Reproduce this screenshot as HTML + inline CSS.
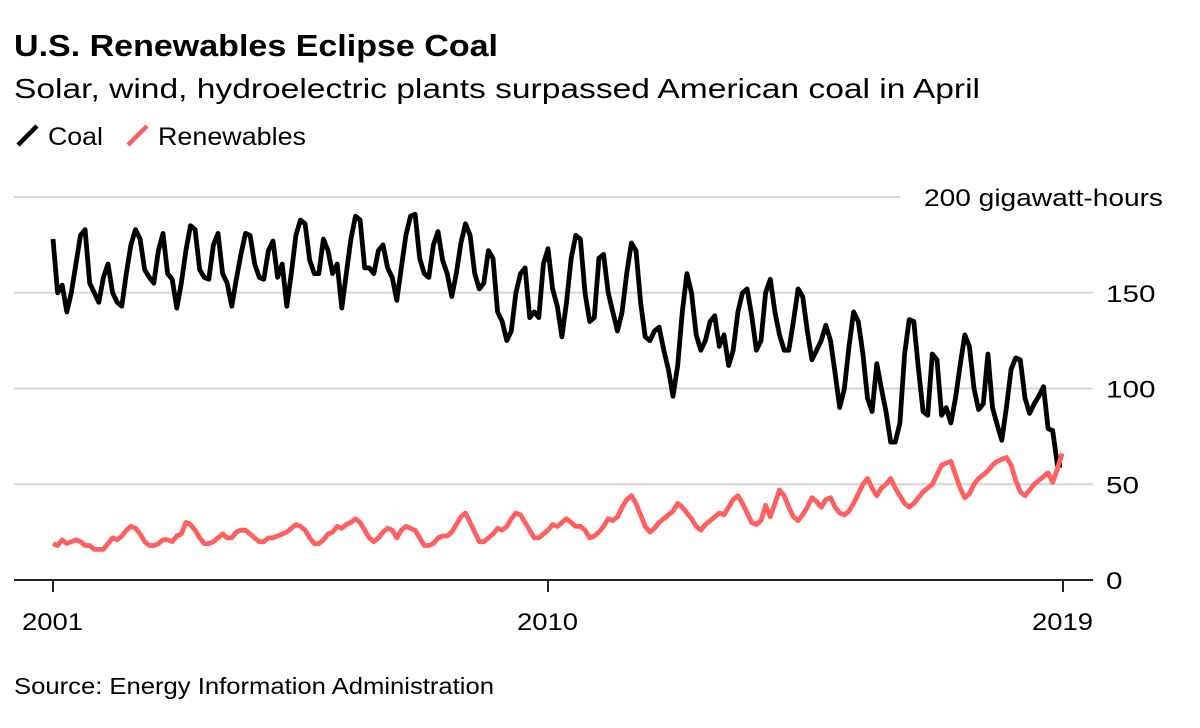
<!DOCTYPE html>
<html><head><meta charset="utf-8"><style>
html,body{margin:0;padding:0;background:#fff;width:1200px;height:728px;overflow:hidden}
svg{display:block;font-family:"Liberation Sans",Arial,sans-serif}
</style></head><body>
<svg id="chart" width="1200" height="728" viewBox="0 0 1200 728">
<text x="14" y="56" font-size="31" font-weight="bold" fill="#000" textLength="484" lengthAdjust="spacingAndGlyphs">U.S. Renewables Eclipse Coal</text>
<text x="14" y="98" font-size="28" fill="#000" textLength="966" lengthAdjust="spacingAndGlyphs">Solar, wind, hydroelectric plants surpassed American coal in April</text>
<g>
<g>
<line x1="18" y1="145" x2="37" y2="126" stroke="#000" stroke-width="4.5"/>
<text x="48" y="145" font-size="25" fill="#000" textLength="55" lengthAdjust="spacingAndGlyphs">Coal</text></g>
<g>
<line x1="128" y1="145" x2="147" y2="126" stroke="#ff5f5f" stroke-width="4.5"/>
<text x="158" y="145" font-size="25" fill="#000" textLength="148" lengthAdjust="spacingAndGlyphs">Renewables</text></g>
</g>
<g id="grid"></g>
<g id="yaxis"></g>
<g id="xaxis"></g>
<g id="series"></g>
<text x="14" y="694" font-size="23" fill="#000" textLength="480" lengthAdjust="spacingAndGlyphs">Source: Energy Information Administration</text>
</svg>
<script>
const yTicks = [0, 50, 100, 150, 200];
const yTickLabels = ["0", "50", "100", "150", "200 gigawatt-hours"];
const xTickYears = [2001, 2010, 2019];
const startYear = 2001;
const coal = [
178,150,154,140,150,165,180,183,155,150,145,158,
165,150,145,143,160,175,183,178,162,158,155,172,
181,160,157,142,155,172,185,183,162,158,157,175,
181,160,155,143,157,170,181,180,165,158,157,172,
177,158,165,143,160,180,188,186,167,160,160,178,
172,160,165,142,160,178,190,188,163,163,160,172,
175,163,158,146,163,180,190,191,168,160,158,175,
182,167,160,148,160,176,186,180,160,152,155,172,
168,140,135,125,130,150,160,163,137,140,137,165,
173,152,143,127,145,168,180,178,150,135,137,168,
170,150,140,130,140,160,176,172,145,127,125,130,
132,120,110,96,112,140,160,150,128,120,125,135,
138,122,128,112,120,140,150,152,138,120,125,150,
157,140,128,120,120,135,152,148,130,115,120,125,
133,125,108,90,100,122,140,135,118,95,88,113,
100,88,72,72,82,118,136,135,110,88,86,118,
115,86,90,82,95,112,128,122,100,89,92,118,
90,81,73,90,110,116,115,95,87,92,96,101,
79,78,60,60];
const renewables = [
19,18,21,19,20,21,20,18,18,16,16,16,
19,22,21,23,26,28,27,24,20,18,18,19,
21,21,20,23,24,30,29,26,22,19,19,20,
22,24,22,22,25,26,26,24,22,20,20,22,
22,23,24,25,27,29,28,26,22,19,19,21,
24,25,28,27,29,30,32,30,26,22,20,22,
25,27,26,22,26,28,27,26,22,18,18,19,
22,23,23,25,29,33,35,30,25,20,20,22,
24,27,26,28,32,35,34,30,26,22,22,24,
26,29,28,30,32,30,28,28,26,22,23,25,
28,32,31,33,38,42,44,40,34,28,25,27,
30,32,34,36,40,38,35,32,28,26,29,31,
33,35,34,38,42,44,40,35,30,29,31,39,
33,40,47,44,38,33,31,34,38,43,41,38,
42,43,38,35,34,36,40,45,50,53,48,44,
48,50,53,48,44,40,38,40,43,46,48,50,
55,60,61,62,55,48,43,45,50,53,55,57,
60,62,63,64,60,52,46,44,47,50,52,54,
56,51,58,66];
const plot = {left:14, right:1093, top:197, bottom:580, x0:53, xMid:548, x1:1062};
const yMax = 200;
function yScale(v){ return plot.bottom - (v / yMax) * (plot.bottom - plot.top); }
function xScaleYear(y){
  if (y <= 2010) return plot.x0 + (plot.xMid - plot.x0) * (y - 2001) / 9;
  return plot.xMid + (plot.x1 - plot.xMid) * (y - 2010) / (2019.25 - 2010);
}
function xScaleIndex(i){ return xScaleYear(startYear + i / 12); }
const NS = "http://www.w3.org/2000/svg";
const grid = document.getElementById('grid');
const yaxis = document.getElementById('yaxis');
yTicks.forEach((t, k) => {
  const y = yScale(t);
  if (t > 0) {
    const ln = document.createElementNS(NS, 'line');
    ln.setAttribute('x1', plot.left);
    ln.setAttribute('x2', t === 200 ? 900 : plot.right);
    ln.setAttribute('y1', y); ln.setAttribute('y2', y);
    ln.setAttribute('stroke', '#d6d6d6'); ln.setAttribute('stroke-width', '2');
    
    
    grid.appendChild(ln);
  }
  const tx = document.createElementNS(NS, 'text');
  tx.textContent = yTickLabels[k];
  tx.setAttribute('font-size', '24');
  tx.setAttribute('y', y + 9);
  if (t === 200) {
    tx.setAttribute('x', 924);
    tx.setAttribute('textLength', '239');
    tx.setAttribute('lengthAdjust', 'spacingAndGlyphs');
  } else {
    tx.setAttribute('x', 1106);
    tx.setAttribute('textLength', String(yTickLabels[k].length * 16.5));
    tx.setAttribute('lengthAdjust', 'spacingAndGlyphs');
  }
  
  
  yaxis.appendChild(tx);
});
const xaxis = document.getElementById('xaxis');
const base = document.createElementNS(NS, 'line');
base.setAttribute('x1', plot.left); base.setAttribute('x2', plot.right);
base.setAttribute('y1', plot.bottom); base.setAttribute('y2', plot.bottom);
base.setAttribute('stroke', '#222'); base.setAttribute('stroke-width', '2');


xaxis.appendChild(base);
xTickYears.forEach(yr => {
  const x = yr === 2019 ? 1063 : xScaleYear(yr);
  const tk = document.createElementNS(NS, 'line');
  tk.setAttribute('x1', x); tk.setAttribute('x2', x);
  tk.setAttribute('y1', plot.bottom); tk.setAttribute('y2', plot.bottom + 12);
  tk.setAttribute('stroke', '#222'); tk.setAttribute('stroke-width', '2');
  
  
  xaxis.appendChild(tk);
  const tx = document.createElementNS(NS, 'text');
  tx.textContent = yr;
  tx.setAttribute('x', x - 31); tx.setAttribute('y', 630);
  tx.setAttribute('font-size', '24');
  tx.setAttribute('textLength', '61');
  tx.setAttribute('lengthAdjust', 'spacingAndGlyphs');
  
  
  xaxis.appendChild(tx);
});
const series = document.getElementById('series');
function drawLine(vals, color, name){
  const pts = vals.map((v, i) => xScaleIndex(i).toFixed(1) + ',' + yScale(v).toFixed(1)).join(' ');
  const pl = document.createElementNS(NS, 'polyline');
  pl.setAttribute('points', pts);
  pl.setAttribute('fill', 'none');
  pl.setAttribute('stroke', color);
  pl.setAttribute('stroke-width', '4.8');
  pl.setAttribute('stroke-linejoin', 'round');
  
  
  series.appendChild(pl);
}
drawLine(coal, '#000', 'coal-line');
drawLine(renewables, '#ff5f5f', 'renewables-line');
</script>
</body></html>
